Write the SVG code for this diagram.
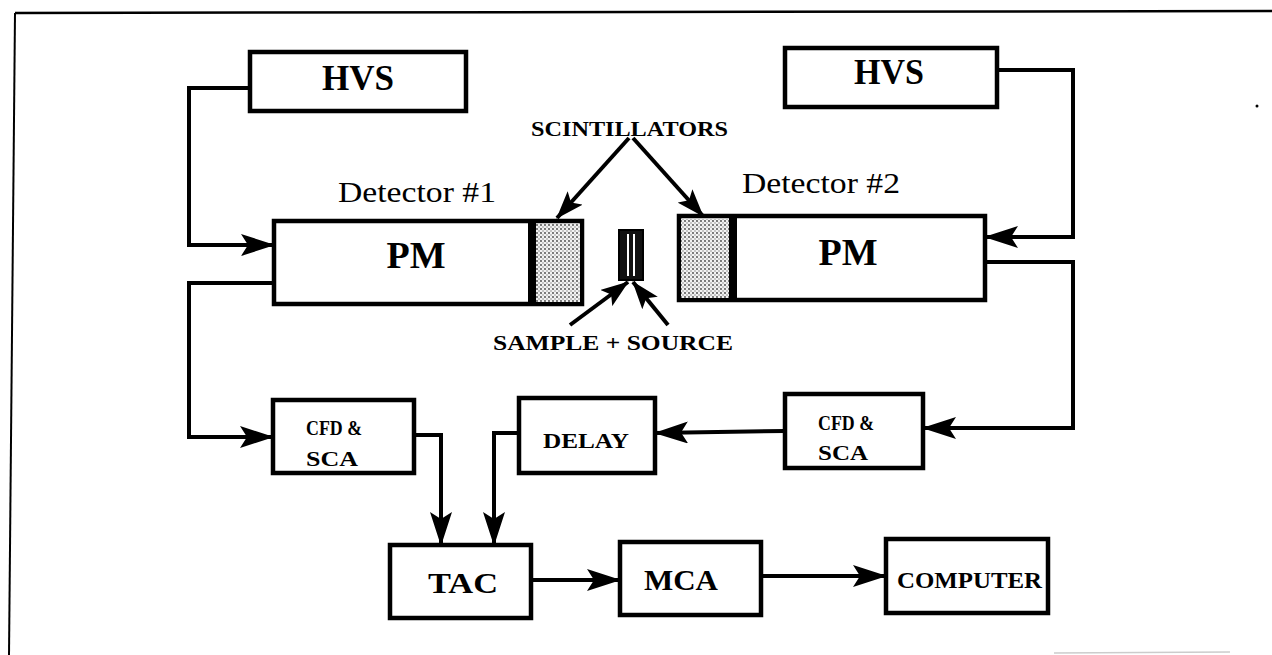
<svg xmlns="http://www.w3.org/2000/svg" width="1272" height="655" viewBox="0 0 1272 655">
<defs>
<style>
.box{fill:#fff;stroke:#000;stroke-width:4.5}
.ln{fill:none;stroke:#000;stroke-width:4;stroke-linejoin:miter}
.lb{font-family:"Liberation Serif",serif;font-weight:bold;fill:#000}
.dt{font-family:"Liberation Serif",serif;fill:#000}
</style>
<marker id="ah" viewBox="0 0 34 22" refX="33" refY="11" markerWidth="34" markerHeight="22" markerUnits="userSpaceOnUse" orient="auto">
<path d="M0,0 L34,11 L0,22 L7,11 z" fill="#000"/>
</marker>
<marker id="ahs" viewBox="0 0 28 20" refX="27" refY="10" markerWidth="28" markerHeight="20" markerUnits="userSpaceOnUse" orient="auto">
<path d="M0,0 L28,10 L0,20 L6,10 z" fill="#000"/>
</marker>
<pattern id="stip" width="4" height="4" patternUnits="userSpaceOnUse">
<rect width="4" height="4" fill="#f2f2f2"/>
<circle cx="1" cy="1" r="0.9" fill="#444"/>
<circle cx="3" cy="3" r="0.7" fill="#777"/>
</pattern>
</defs>
<rect width="1272" height="655" fill="#fff"/>
<g id="frame">
<path d="M15,13 L1272,11" fill="none" stroke="#000" stroke-width="2.5"/>
<path d="M15,13 L9,655" fill="none" stroke="#000" stroke-width="2"/>
<path d="M1054,653 L1230,652" fill="none" stroke="#ccc" stroke-width="1.5"/>
<circle cx="1257" cy="106" r="1.5" fill="#000"/>
</g>
<g id="connectors">
<polyline class="ln" points="250,88 189,88 189,245 274,245" marker-end="url(#ah)"/>
<polyline class="ln" points="997,70 1073,70 1073,237 985,237" marker-end="url(#ah)"/>
<polyline class="ln" points="274,283 189,283 189,437 273,437" marker-end="url(#ah)"/>
<polyline class="ln" points="985,262 1073,262 1073,428 923,428" marker-end="url(#ah)"/>
<polyline class="ln" points="785,431 655,433" marker-end="url(#ah)"/>
<polyline class="ln" points="414,435 441,435 441,545" marker-end="url(#ah)"/>
<polyline class="ln" points="519,433 494,433 494,545" marker-end="url(#ah)"/>
<polyline class="ln" points="531,580 620,580" marker-end="url(#ah)"/>
<polyline class="ln" points="761,576 886,576" marker-end="url(#ah)"/>
<polyline class="ln" points="629,138 557,218" marker-end="url(#ahs)"/>
<polyline class="ln" points="633,138 703,216" marker-end="url(#ahs)"/>
<polyline class="ln" points="570,325 628,282" marker-end="url(#ahs)"/>
<polyline class="ln" points="668,325 633,282" marker-end="url(#ahs)"/>
</g>
<g id="hvs1">
<rect class="box" x="250" y="52" width="216" height="59"/>
<text class="lb" x="358" y="90" font-size="36" text-anchor="middle" textLength="72" lengthAdjust="spacingAndGlyphs">HVS</text>
</g>
<g id="hvs2">
<rect class="box" x="785" y="48" width="212" height="59"/>
<text class="lb" x="889" y="84" font-size="36" text-anchor="middle" textLength="70" lengthAdjust="spacingAndGlyphs">HVS</text>
</g>
<g id="scintillators-label">
<text class="lb" x="531" y="136" font-size="21" textLength="197" lengthAdjust="spacingAndGlyphs">SCINTILLATORS</text>
</g>
<g id="detector1-label">
<text class="dt" x="338" y="202" font-size="30" textLength="158" lengthAdjust="spacingAndGlyphs">Detector #1</text>
</g>
<g id="detector2-label">
<text class="dt" x="742" y="193" font-size="30" textLength="158" lengthAdjust="spacingAndGlyphs">Detector #2</text>
</g>
<g id="pm1">
<rect class="box" x="274" y="221" width="308" height="83"/>
<rect x="533" y="224" width="47" height="78" fill="url(#stip)"/>
<rect x="528" y="221" width="8" height="83" fill="#000"/>
<text class="lb" x="416" y="268" font-size="38" text-anchor="middle">PM</text>
</g>
<g id="pm2">
<rect class="box" x="679" y="216" width="306" height="84"/>
<rect x="681" y="219" width="49" height="79" fill="url(#stip)"/>
<rect x="729" y="216" width="8" height="84" fill="#000"/>
<text class="lb" x="848" y="265" font-size="38" text-anchor="middle">PM</text>
</g>
<g id="sample">
<rect x="619" y="230" width="24" height="50" fill="#111" stroke="#000" stroke-width="2"/>
<line x1="628" y1="234" x2="628" y2="276" stroke="#fff" stroke-width="2"/>
<line x1="634" y1="234" x2="634" y2="276" stroke="#fff" stroke-width="2"/>
</g>
<g id="sample-label">
<text class="lb" x="493" y="350" font-size="22" textLength="240" lengthAdjust="spacingAndGlyphs">SAMPLE + SOURCE</text>
</g>
<g id="cfd1">
<rect class="box" x="273" y="400" width="141" height="73"/>
<text class="lb" x="306" y="435" font-size="21" textLength="56" lengthAdjust="spacingAndGlyphs">CFD &amp;</text>
<text class="lb" x="306" y="466" font-size="21" textLength="52" lengthAdjust="spacingAndGlyphs">SCA</text>
</g>
<g id="cfd2">
<rect class="box" x="785" y="394" width="138" height="74"/>
<text class="lb" x="818" y="430" font-size="21" textLength="56" lengthAdjust="spacingAndGlyphs">CFD &amp;</text>
<text class="lb" x="818" y="460" font-size="21" textLength="50" lengthAdjust="spacingAndGlyphs">SCA</text>
</g>
<g id="delay">
<rect class="box" x="519" y="398" width="136" height="75"/>
<text class="lb" x="586" y="448" font-size="22" text-anchor="middle" textLength="86" lengthAdjust="spacingAndGlyphs">DELAY</text>
</g>
<g id="tac">
<rect class="box" x="390" y="545" width="141" height="73"/>
<text class="lb" x="463" y="593" font-size="30" text-anchor="middle" textLength="70" lengthAdjust="spacingAndGlyphs">TAC</text>
</g>
<g id="mca">
<rect class="box" x="620" y="542" width="141" height="73"/>
<text class="lb" x="681" y="590" font-size="30" text-anchor="middle" textLength="74" lengthAdjust="spacingAndGlyphs">MCA</text>
</g>
<g id="computer">
<rect class="box" x="886" y="539" width="162" height="74"/>
<text class="lb" x="897" y="588" font-size="24" textLength="145" lengthAdjust="spacingAndGlyphs">COMPUTER</text>
</g>
</svg>
